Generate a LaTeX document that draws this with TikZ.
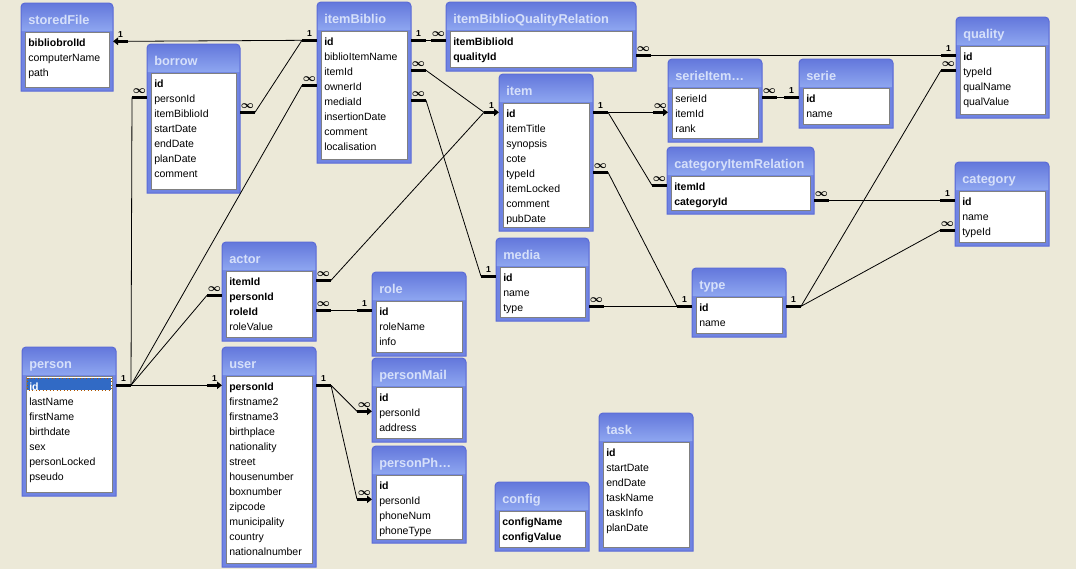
\documentclass[tikz,border=0pt]{standalone}
\usepackage{fontspec}
\setmainfont{Liberation Sans}
\usetikzlibrary{arrows.meta, calc}

\definecolor{canvas}{RGB}{236,233,216}
\definecolor{tabedge}{RGB}{90,106,214}
\definecolor{tabbody}{RGB}{112,132,226}
\definecolor{titletop}{RGB}{100,120,220}
\definecolor{titlebot}{RGB}{142,166,240}
\definecolor{titletext}{RGB}{214,224,250}
\definecolor{selblue}{RGB}{49,106,197}

\tikzset{
  fieldtxt/.style={anchor=base west, inner sep=0pt, font=\fontsize{7.9}{9}\selectfont},
  titletxt/.style={anchor=base west, inner sep=0pt, text=titletext, font=\bfseries\fontsize{9.6}{11}\selectfont},
  stub/.style={line width=2.25pt},
  stubarr/.style={stub, -{Triangle[length=3.75pt,width=5.5pt]}},
  rel/.style={line width=0.6pt},
  card/.style={font=\bfseries\fontsize{6.5}{7}\selectfont, inner sep=0.5pt, above=1.2pt, midway},
}

\newcommand{\many}{{\fontsize{8.5}{8}\selectfont\boldmath$\infty$}}

% name, x, y, width, height, title, fields (all in screen pixels)
\newcommand{\dbtable}[7]{%
  \fill[tabbody] (#2,{#3+#5}) [rounded corners=3pt] -- (#2,#3) -- ({#2+#4},#3) [sharp corners] -- ({#2+#4},{#3+#5}) -- cycle;
  \shade[top color=titletop, bottom color=titlebot] ({#2+0.5},{#3+28}) [rounded corners=2.5pt] -- ({#2+0.5},{#3+0.5}) -- ({#2+#4-0.5},{#3+0.5}) [sharp corners] -- ({#2+#4-0.5},{#3+28}) -- cycle;
  \draw[tabedge, line width=0.75pt] (#2,{#3+#5}) [rounded corners=3pt] -- (#2,#3) -- ({#2+#4},#3) [sharp corners] -- ({#2+#4},{#3+#5}) -- cycle;
  \filldraw[fill=white, draw=gray, line width=0.75pt] ({#2+4},{#3+29}) rectangle ({#2+#4-4},{#3+#5-4});
  \node[inner sep=0pt, minimum width={#4*0.75pt}, minimum height={#5*0.75pt}, anchor=north west] (#1) at (#2,#3) {};
  \node[titletxt] (#1-title) at ({#2+7},{#3+21}) {#6};
  \foreach \fld [count=\i] in {#7} {
    \node[fieldtxt] (#1-\i) at ({#2+7},{#3+43.5+15*(\i-1)}) {\fld};
    \coordinate (#1-\i-w) at (#2,{#3+38.3+15*(\i-1)});
    \coordinate (#1-\i-e) at ({#2+#4},{#3+38.3+15*(\i-1)});
  }
}

\begin{document}
\begin{tikzpicture}[x=0.75pt, y=-0.75pt]
  \fill[canvas] (0,0) rectangle (1076,569);
  \useasboundingbox (0,0) rectangle (1076,569);

  % tables
  \dbtable{storedFile}{21}{3}{92}{88}{storedFile}{\textbf{bibliobrolId}, computerName, path}
  \dbtable{borrow}{147}{44}{93}{149}{borrow}{\textbf{id}, personId, itemBiblioId, startDate, endDate, planDate, comment}
  \dbtable{itemBiblio}{317}{2}{94}{161}{itemBiblio}{\textbf{id}, biblioItemName, itemId, ownerId, mediaId, insertionDate, comment, localisation}
  \dbtable{ibqRel}{446}{2}{190}{69}{itemBiblioQualityRelation}{\textbf{itemBiblioId}, \textbf{qualityId}}
  \dbtable{item}{499}{74}{94}{157}{item}{\textbf{id}, itemTitle, synopsis, cote, typeId, itemLocked, comment, pubDate}
  \dbtable{serieItem}{668}{59}{94}{83}{serieItem…}{serieId, itemId, rank}
  \dbtable{serie}{799}{59}{94}{69}{serie}{\textbf{id}, name}
  \dbtable{quality}{956}{17}{93}{101}{quality}{\textbf{id}, typeId, qualName, qualValue}
  \dbtable{catItemRel}{667}{147}{147}{67}{categoryItemRelation}{\textbf{itemId}, \textbf{categoryId}}
  \dbtable{category}{955}{162}{94}{84}{category}{\textbf{id}, name, typeId}
  \dbtable{actor}{222}{242}{94}{99}{actor}{\textbf{itemId}, \textbf{personId}, \textbf{roleId}, roleValue}
  \dbtable{person}{22}{347}{94}{149}{person}{\textbf{id}, lastName, firstName, birthdate, sex, personLocked, pseudo}
  \dbtable{user}{222}{347}{94}{220}{user}{\textbf{personId}, firstname2, firstname3, birthplace, nationality, street, housenumber, boxnumber, zipcode, municipality, country, nationalnumber}
  \dbtable{media}{496}{238}{93}{83}{media}{\textbf{id}, name, type}
  \dbtable{role}{372}{272}{94}{84}{role}{\textbf{id}, roleName, info}
  \dbtable{personMail}{372}{358}{94}{84}{personMail}{\textbf{id}, personId, address}
  \dbtable{personPhone}{372}{446}{94}{97}{personPh…}{\textbf{id}, personId, phoneNum, phoneType}
  \dbtable{config}{495}{482}{94}{69}{config}{\textbf{configName}, \textbf{configValue}}
  \dbtable{task}{599}{413}{94}{138}{task}{\textbf{id}, startDate, endDate, taskName, taskInfo, planDate}
  \dbtable{type}{692}{268}{94}{69}{type}{\textbf{id}, name}

  % selected row in person
  \fill[selblue] (27,378) rectangle (111,390);
  \draw[orange!70!black, dotted, line width=0.6pt] (27,378) rectangle (111,390);
  \node[fieldtxt, text=white] (person-sel) at (person-1.base west) {\textbf{id}};

  % itemBiblio -- storedFile, borrow
  \draw[stub] (itemBiblio-1-w) -- ++(-15,0) node[card]{1} coordinate (ibW1);
  \draw[stubarr] ($(storedFile-1-e)+(15,0)$) coordinate (sfE1) -- (storedFile-1-e) node[card]{1};
  \draw[rel] (ibW1) -- (sfE1);
  \draw[stub] (borrow-3-e) -- ++(15,0) node[card]{\many} coordinate (boE3);
  \draw[rel] (boE3) -- (ibW1);

  % person -- borrow, itemBiblio, actor, user
  \draw[stub] (person-1-e) -- ++(15,0) node[card]{1} coordinate (peE1);
  \draw[stub] (borrow-2-w) -- ++(-15,0) node[card]{\many} coordinate (boW2);
  \draw[stub] (itemBiblio-4-w) -- ++(-15,0) node[card]{\many} coordinate (ibW4);
  \draw[stub] (actor-2-w) -- ++(-15,0) node[card]{\many} coordinate (acW2);
  \draw[stubarr] ($(user-1-w)+(-15,0)$) coordinate (usW1) -- (user-1-w) node[card]{1};
  \draw[rel] (boW2) -- (peE1);
  \draw[rel] (ibW4) -- (peE1);
  \draw[rel] (acW2) -- (peE1);
  \draw[rel] (peE1) -- (usW1);

  % user -- personMail, personPhone
  \draw[stub] (user-1-e) -- ++(15,0) node[card]{1} coordinate (usE1);
  \draw[stubarr] ($(personMail-2-w)+(-15,0)$) coordinate (pmW2) -- (personMail-2-w) node[card]{\many};
  \draw[stubarr] ($(personPhone-2-w)+(-15,0)$) coordinate (ppW2) -- (personPhone-2-w) node[card]{\many};
  \draw[rel] (usE1) -- (pmW2);
  \draw[rel] (usE1) -- (ppW2);

  % item -- actor, itemBiblio
  \draw[stubarr] ($(item-1-w)+(-15,0)$) coordinate (itW1) -- (item-1-w) node[card]{1};
  \draw[stub] (actor-1-e) -- ++(15,0) node[card]{\many} coordinate (acE1);
  \draw[stub] (itemBiblio-3-e) -- ++(15,0) node[card]{\many} coordinate (ibE3);
  \draw[rel] (acE1) -- (itW1);
  \draw[rel] (ibE3) -- (itW1);

  % actor -- role
  \draw[stub] (actor-3-e) -- ++(15,0) node[card]{\many} coordinate (acE3);
  \draw[stub] (role-1-w) -- ++(-15,0) node[card]{1} coordinate (roW1);
  \draw[rel] (acE3) -- (roW1);

  % itemBiblio -- media
  \draw[stub] (itemBiblio-5-e) -- ++(15,0) node[card]{\many} coordinate (ibE5);
  \draw[stub] (media-1-w) -- ++(-15,0) node[card]{1} coordinate (meW1);
  \draw[rel] (ibE5) -- (meW1);

  % itemBiblio -- ibqRel -- quality
  \draw[stub] (itemBiblio-1-e) -- ++(15,0) node[card]{1} coordinate (ibE1);
  \draw[stub] (ibqRel-1-w) -- ++(-15,0) node[card]{\many} coordinate (iqW1);
  \draw[rel] (ibE1) -- (iqW1);
  \draw[stub] (ibqRel-2-e) -- ++(15,0) node[card]{\many} coordinate (iqE2);
  \draw[stub] (quality-1-w) -- ++(-15,0) node[card]{1} coordinate (quW1);
  \draw[rel] (iqE2) -- (quW1);

  % item -- serieItem -- serie
  \draw[stub] (item-1-e) -- ++(15,0) node[card]{1} coordinate (itE1);
  \draw[stubarr] ($(serieItem-2-w)+(-15,0)$) coordinate (siW2) -- (serieItem-2-w) node[card]{\many};
  \draw[rel] (itE1) -- (siW2);
  \draw[stub] (serieItem-1-e) -- ++(15,0) node[card]{\many} coordinate (siE1);
  \draw[stub] (serie-1-w) -- ++(-15,0) node[card]{1} coordinate (seW1);
  \draw[rel] (siE1) -- (seW1);

  % item -- catItemRel -- category
  \draw[stub] (catItemRel-1-w) -- ++(-15,0) node[card]{\many} coordinate (ciW1);
  \draw[rel] (itE1) -- (ciW1);
  \draw[stub] (catItemRel-2-e) -- ++(15,0) node[card]{\many} coordinate (ciE2);
  \draw[stub] (category-1-w) -- ++(-15,0) node[card]{1} coordinate (caW1);
  \draw[rel] (ciE2) -- (caW1);

  % type -- item, media, quality, category
  \draw[stub] (type-1-w) -- ++(-15,0) node[card]{1} coordinate (tyW1);
  \draw[stub] (item-5-e) -- ++(15,0) node[card]{\many} coordinate (itE5);
  \draw[stub] (media-3-e) -- ++(15,0) node[card]{\many} coordinate (meE3);
  \draw[rel] (itE5) -- (tyW1);
  \draw[rel] (meE3) -- (tyW1);
  \draw[stub] (type-1-e) -- ++(15,0) node[card]{1} coordinate (tyE1);
  \draw[stub] (quality-2-w) -- ++(-15,0) node[card]{\many} coordinate (quW2);
  \draw[stub] (category-3-w) -- ++(-15,0) node[card]{\many} coordinate (caW3);
  \draw[rel] (tyE1) -- (quW2);
  \draw[rel] (tyE1) -- (caW3);
\end{tikzpicture}
\end{document}
